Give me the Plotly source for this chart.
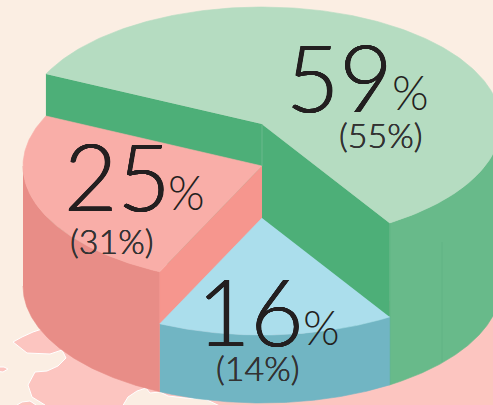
import numpy as np
import plotly.graph_objects as go

categories = ["green", "pink", "blue"]
shares = [59, 25, 16]
previous = [55, 31, 14]

top_fill = ["#b5dcc1", "#f9aea8", "#abdeec"]
rim_fill = ["#68ba8a", "#e88d87", "#71b5c3"]
cut_fill = ["#4daf78", "#f6968e", None]
top_lift = [162, 120, 68]

CX, BASE_Y, RX, RY = 262, 286, 239, 117
START_DEG = 154.7

INK = "#231f20"
FONT = "Lato Light, Lato, sans-serif"
SHADOW = "0.45px 0 0 #231f20, -0.45px 0 0 #231f20, 0 0.45px 0 #231f20, 0 -0.45px 0 #231f20"
SUB_SHADOW = "0.2px 0 0 #333333, -0.2px 0 0 #333333"


def arc(a0, a1, cy, n=120):
    t = np.radians(np.linspace(a0, a1, n))
    return CX + RX * np.cos(t), cy - RY * np.sin(t)


def poly(xs, ys, color):
    return go.Scatter(x=list(xs), y=list(ys), mode="lines", fill="toself", fillcolor=color,
                      line=dict(color=color, width=0.6), hoverinfo="skip", showlegend=False)


green_a0 = START_DEG
green_a1 = START_DEG - shares[0] * 3.6
pink_a0 = START_DEG
pink_a1 = START_DEG + shares[1] * 3.6
blue_a0 = pink_a1
blue_a1 = pink_a1 + shares[2] * 3.6

fig = go.Figure()
cy = [BASE_Y - h for h in top_lift]

# green: rim, cut faces, top
xa, ya = arc(green_a1, 0, cy[0])
xb, yb = arc(0, green_a1, BASE_Y)
fig.add_trace(poly(np.r_[xa, xb], np.r_[ya, yb], rim_fill[0]))
xs, ys = arc(green_a0, green_a0, cy[0], 1)
xe, ye = arc(green_a1, green_a1, cy[0], 1)
fig.add_trace(poly([xs[0], CX, xe[0], xe[0], CX, xs[0]],
                   [ys[0], cy[0], ye[0], ye[0] + top_lift[0], cy[0] + top_lift[0], ys[0] + top_lift[0]],
                   cut_fill[0]))
xa, ya = arc(green_a1, green_a0, cy[0], 240)
fig.add_trace(poly(np.r_[CX, xa], np.r_[cy[0], ya], top_fill[0]))

# pink: rim, cut face, top
xa, ya = arc(180, pink_a1, cy[1])
xb, yb = arc(pink_a1, 180, BASE_Y)
fig.add_trace(poly(np.r_[xa, xb], np.r_[ya, yb], rim_fill[1]))
xe, ye = arc(pink_a1, pink_a1, cy[1], 1)
fig.add_trace(poly([CX, xe[0], xe[0], CX], [cy[1], ye[0], ye[0] + top_lift[1], cy[1] + top_lift[1]], cut_fill[1]))
xa, ya = arc(pink_a0, pink_a1, cy[1])
fig.add_trace(poly(np.r_[CX, xa], np.r_[cy[1], ya], top_fill[1]))

# blue: rim, top
xa, ya = arc(blue_a0, blue_a1, cy[2])
xb, yb = arc(blue_a1, blue_a0, BASE_Y)
fig.add_trace(poly(np.r_[xa, xb], np.r_[ya, yb], rim_fill[2]))
fig.add_trace(poly(np.r_[CX, xa], np.r_[cy[2], ya], top_fill[2]))

map_path = ("M13,342 L22,337 L33,332 L42,329 L52,335 L300,300 L520,300 L520,420 L45,420 L45,405 L32,397 "
            "L28,385 L35,372 L47,371 L58,366 L66,358 L62,350 L50,354 L27,353 Z")
island = "M122,407 L128,397 L137,391 L146,388 L150,393 L160,392 L168,396 L185,398 L205,399 L222,407 Z"
speck_a = "M-5,367 L4,367 L8,369 L3,372 L-5,371 Z"
speck_b = "M17,405 L22,402 L30,401 L36,405 L36,410 L17,410 Z"
WHITE = dict(color="#ffffff", width=1)
shapes = [
    dict(type="path", path=map_path, fillcolor="#fcc5c0", line=WHITE, layer="below"),
    dict(type="path", path=island, fillcolor="#fbeee3", line=WHITE, layer="below"),
    dict(type="path", path=speck_a, fillcolor="#fcc5c0", line=WHITE, layer="below"),
    dict(type="path", path=speck_b, fillcolor="#fcc5c0", line=WHITE, layer="below"),
    dict(type="line", x0=442, x1=442, y0=242, y1=362, line=dict(color="#5fb384", width=0.8), layer="above"),
    dict(type="line", x0=262, x1=262, y0=124, y1=166, line=dict(color="#72bd92", width=0.8), layer="above"),
]

number_right = [395, 173, 306]
number_mid = [76, 175, 310]
percent_x = [390, 166, 301]
percent_mid = [92, 192, 327]
sub_x = [381, 112, 258]
sub_y = [134, 240, 367]

anns = []
for i in range(3):
    anns.append(dict(x=number_right[i], y=number_mid[i], text=str(shares[i]), xanchor="right", yanchor="middle",
                     showarrow=False, font=dict(family=FONT, size=92, color=INK, weight=300, shadow=SHADOW)))
    anns.append(dict(x=percent_x[i], y=percent_mid[i], text="%", xanchor="left", yanchor="middle",
                     showarrow=False, font=dict(family=FONT, size=47, color=INK, weight=300)))
    anns.append(dict(x=sub_x[i], y=sub_y[i], text=f"({previous[i]}%)", xanchor="center", yanchor="middle",
                     showarrow=False, font=dict(family=FONT, size=34, color="#333333", weight=300, shadow=SUB_SHADOW)))

fig.update_layout(
    width=493, height=405, margin=dict(l=0, r=0, t=0, b=0),
    paper_bgcolor="#fbeee3", plot_bgcolor="#fbeee3", showlegend=False,
    xaxis=dict(range=[0, 493], visible=False, fixedrange=True),
    yaxis=dict(range=[405, 0], visible=False, fixedrange=True),
    shapes=shapes, annotations=anns,
)
fig.write_html("out.html", config=dict(displayModeBar=False),
               post_script="document.body.style.margin='0';document.body.style.overflow='hidden';")
